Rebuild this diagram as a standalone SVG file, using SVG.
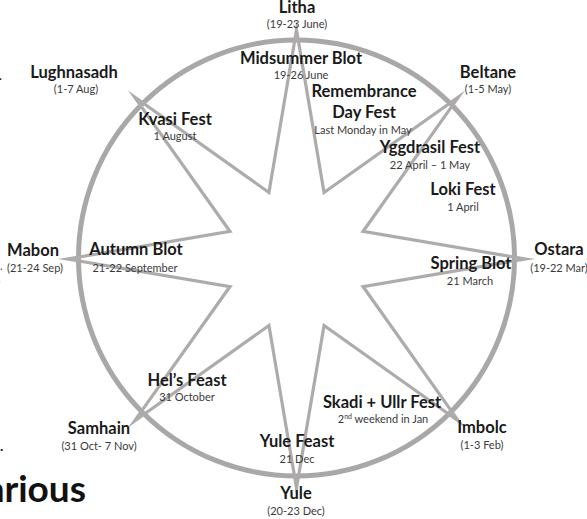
<svg xmlns="http://www.w3.org/2000/svg" width="587" height="519" viewBox="0 0 587 519">
<style>
.t{font-family:Lato,"Open Sans","Liberation Sans",sans-serif;font-weight:bold;font-size:16.5px;fill:#1a1a1a;text-anchor:middle}
.s{font-family:Lato,"Open Sans","Liberation Sans",sans-serif;font-size:11px;fill:#3a3a3a;text-anchor:middle}
.ring{fill:none;stroke:#aaa7a7;stroke-width:5}
.star{fill:none;stroke:#aeabab;stroke-width:3.2;stroke-linejoin:miter;stroke-miterlimit:20}
</style>
<rect width="587" height="519" fill="#ffffff"/>
<g id="wheel">
<circle class="ring" cx="296.5" cy="258" r="218"/>
<polygon class="star" points="296.5,30 324.05,192.48 458.43,97.07 363.02,231.45 525.5,259 363.02,286.55 458.43,420.93 324.05,325.52 296.5,488 268.95,325.52 134.57,420.93 229.98,286.55 67.5,259 229.98,231.45 134.57,97.07 268.95,192.48"/>
</g>
<g id="background-text">
<text x="-1" y="80" class="t" style="text-anchor:start;font-size:12px">.</text>
<text x="0" y="270" class="s" style="text-anchor:start">.</text>
<text x="-3" y="283" class="t" style="text-anchor:start;font-size:15px">.</text>
<text x="0" y="451" class="t" style="text-anchor:start;font-size:14px">.</text>
<text x="86" y="502" class="t" style="text-anchor:end;font-size:37px;fill:#111">arious</text>
</g>
<g id="litha"><text x="297" y="13" class="t">Litha</text><text x="297" y="28" class="s">(19-23 June)</text></g>
<g id="lughnasadh"><text x="74" y="78" class="t">Lughnasadh</text><text x="76" y="93" class="s">(1-7 Aug)</text></g>
<g id="beltane"><text x="488" y="78" class="t">Beltane</text><text x="488" y="93" class="s">(1-5 May)</text></g>
<g id="mabon"><text x="33" y="256" class="t">Mabon</text><text x="35" y="272" class="s">(21-24 Sep)</text></g>
<g id="ostara"><text x="559" y="255" class="t">Ostara</text><text x="559" y="272" class="s">(19-22 Mar)</text></g>
<g id="samhain"><text x="99" y="434" class="t">Samhain</text><text x="99" y="450" class="s">(31 Oct- 7 Nov)</text></g>
<g id="imbolc"><text x="482" y="433" class="t">Imbolc</text><text x="482" y="449" class="s">(1-3 Feb)</text></g>
<g id="yule"><text x="296" y="499" class="t">Yule</text><text x="296" y="515" class="s">(20-23 Dec)</text></g>
<g id="midsummer-blot"><text x="301" y="64" class="t">Midsummer Blot</text><text x="301" y="79" class="s">19-26 June</text></g>
<g id="remembrance"><text x="364" y="97" class="t">Remembrance</text><text x="364" y="118" class="t">Day Fest</text><text x="363" y="134" class="s">Last Monday in May</text></g>
<g id="yggdrasil"><text x="430" y="153" class="t">Yggdrasil Fest</text><text x="430" y="169" class="s">22 April – 1 May</text></g>
<g id="loki"><text x="463" y="195" class="t">Loki Fest</text><text x="463" y="211" class="s">1 April</text></g>
<g id="spring-blot"><text x="471" y="269" class="t">Spring Blot</text><text x="470" y="285" class="s">21 March</text></g>
<g id="kvasi"><text x="175" y="125" class="t">Kvasi Fest</text><text x="175" y="140" class="s">1 August</text></g>
<g id="autumn-blot"><text x="136" y="255" class="t">Autumn Blot</text><text x="135" y="272" class="s">21-22 September</text></g>
<g id="hels-feast"><text x="187" y="386" class="t">Hel’s Feast</text><text x="187" y="401" class="s">31 October</text></g>
<g id="yule-feast"><text x="297" y="447" class="t">Yule Feast</text><text x="297" y="463" class="s">21 Dec</text></g>
<g id="skadi-ullr"><text x="382" y="408" class="t">Skadi + Ullr Fest</text><text x="383" y="423" class="s">2<tspan dy="-4" style="font-size:7px">nd</tspan><tspan dy="4"> weekend in Jan</tspan></text></g>
</svg>
